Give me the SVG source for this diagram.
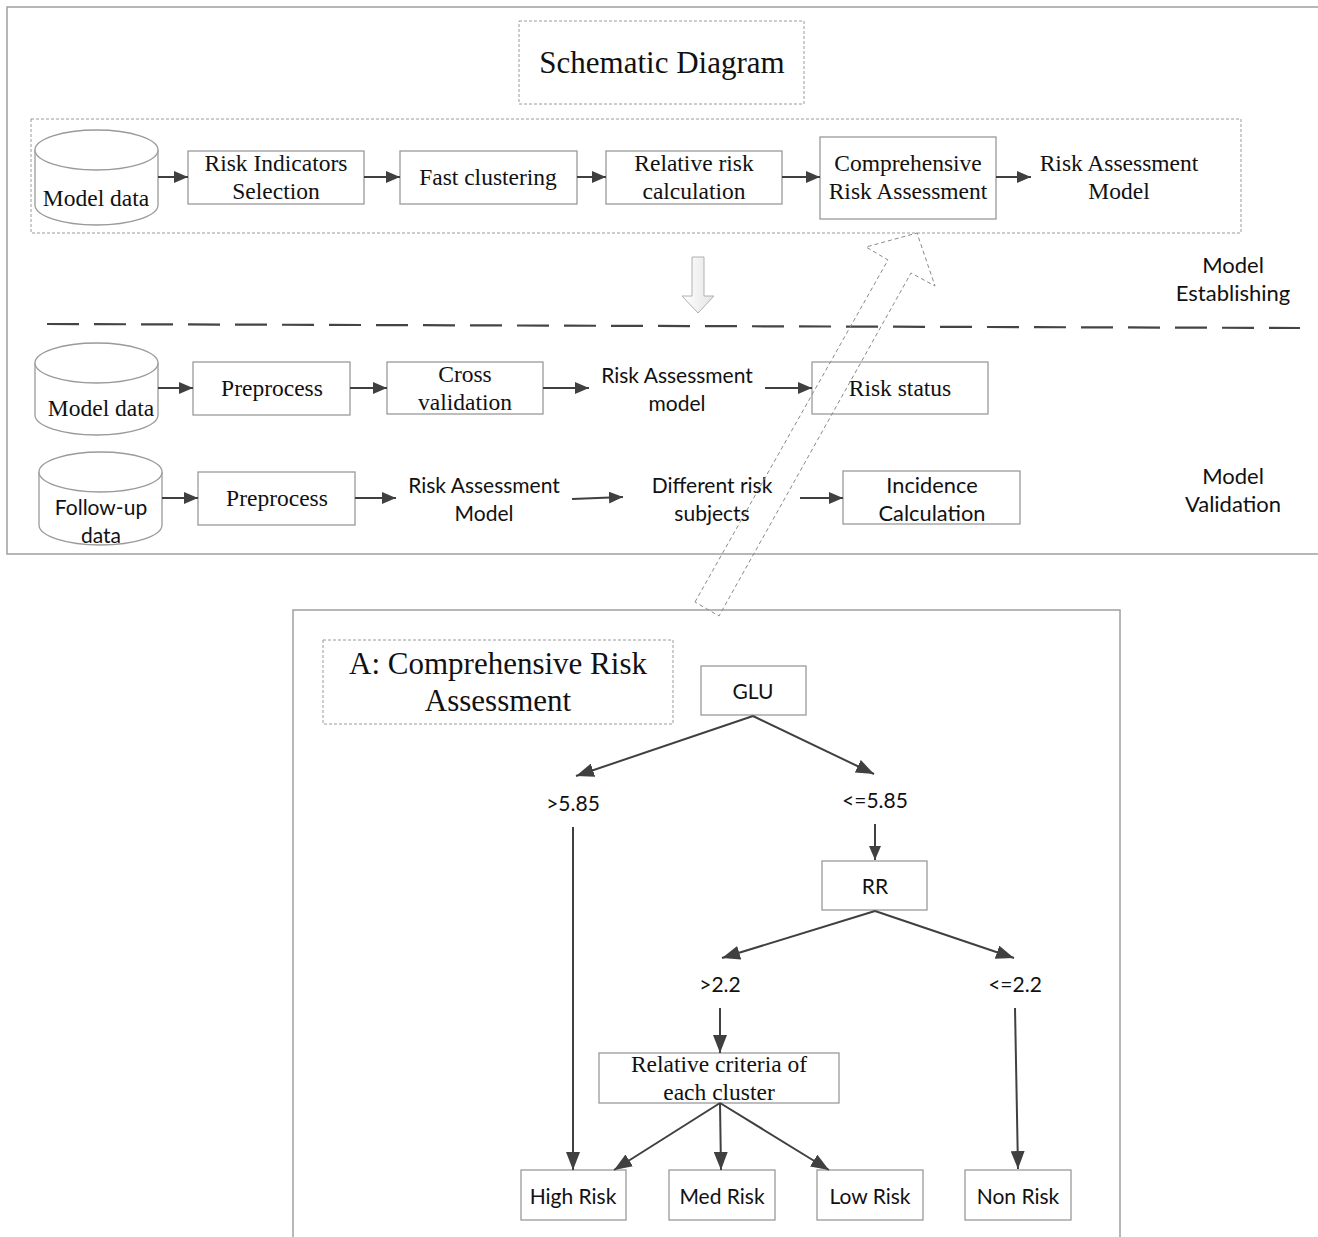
<svg xmlns="http://www.w3.org/2000/svg" width="1318" height="1237" viewBox="0 0 1318 1237">
<defs>
<marker id="ah" viewBox="0 0 14 12" refX="14" refY="6" markerWidth="14" markerHeight="12" markerUnits="userSpaceOnUse" orient="auto">
<path d="M0,0 L14,6 L0,12 z" fill="#404040"/>
</marker>
<marker id="ahb" viewBox="0 0 18 14" refX="18" refY="7" markerWidth="18" markerHeight="14" markerUnits="userSpaceOnUse" orient="auto">
<path d="M0,0 L18,7 L0,14 z" fill="#404040"/>
</marker>
<linearGradient id="gArrow" x1="0" y1="0" x2="1" y2="0">
<stop offset="0" stop-color="#ffffff"/>
<stop offset="1" stop-color="#e4e4e4"/>
</linearGradient>
</defs>
<style>
.frame{fill:none;stroke:#a0a0a0;stroke-width:1.5}
.box{fill:#ffffff;stroke:#9a9a9a;stroke-width:1.3}
.dbox{fill:none;stroke:#9a9a9a;stroke-width:1;stroke-dasharray:3,2}
.serif{font-family:"Liberation Serif","Times New Roman",serif;fill:#111;text-anchor:middle;dominant-baseline:central}
.sans{font-family:Lato,"Open Sans","Liberation Sans",sans-serif;fill:#111;text-anchor:middle;dominant-baseline:central}
.s22{font-size:23.5px}
.s21{font-size:21px}
.s31{font-size:31px}
.conn{stroke:#404040;stroke-width:2;fill:none}
.cyl{fill:#ffffff;stroke:#9a9a9a;stroke-width:1.3}
</style>
<rect width="1318" height="1237" fill="#ffffff"/>

<g id="frames">
<path class="frame" d="M1318,7 H7 V554 H1318"/>
<path class="frame" d="M293,1237 V610 H1120 V1237"/>
<rect class="dbox" x="31" y="119" width="1210" height="114"/>
<path d="M47,324 L1300,328" stroke="#444" stroke-width="2.2" stroke-dasharray="32,15" fill="none"/>
</g>

<g id="title">
<rect class="dbox" x="519" y="21" width="285" height="83"/>
<text class="serif s31" x="662" y="62">Schematic Diagram</text>
</g>

<g id="cyl1">
<path class="cyl" d="M35,150 V205 A61.5,20 0 0 0 158,205 V150"/>
<ellipse class="cyl" cx="96.5" cy="150" rx="61.5" ry="20"/>
<text class="serif s22" x="96" y="198">Model data</text>
</g>
<g id="n_risk_ind">
<rect class="box" x="188" y="151" width="176" height="53"/>
<text class="serif s22" x="276" y="163">Risk Indicators</text>
<text class="serif s22" x="276" y="191">Selection</text>
</g>
<g id="n_fast">
<rect class="box" x="400" y="151" width="177" height="53"/>
<text class="serif s22" x="488" y="177">Fast clustering</text>
</g>
<g id="n_rel">
<rect class="box" x="606" y="151" width="176" height="53"/>
<text class="serif s22" x="694" y="163">Relative risk</text>
<text class="serif s22" x="694" y="191">calculation</text>
</g>
<g id="n_comp">
<rect class="box" x="820" y="137" width="176" height="82"/>
<text class="serif s22" x="908" y="163">Comprehensive</text>
<text class="serif s22" x="908" y="191">Risk Assessment</text>
</g>
<g id="n_ram">
<text class="serif s22" x="1119" y="163">Risk Assessment</text>
<text class="serif s22" x="1119" y="191">Model</text>
</g>

<g id="downArrow">
<path d="M692,257 H704 V296 H714 L698,313 L682,296 H692 Z" fill="url(#gArrow)" stroke="#b0b0b0" stroke-width="1"/>
</g>

<g id="labels">
<text class="sans s21" x="1233" y="264" style="font-size:22px">Model</text>
<text class="sans s21" x="1233" y="292" style="font-size:22px">Establishing</text>
<text class="sans s21" x="1233" y="475" style="font-size:22px">Model</text>
<text class="sans s21" x="1233" y="503" style="font-size:22px">Validation</text>
</g>

<g id="cyl2">
<path class="cyl" d="M35,363 V415 A61.5,20 0 0 0 158,415 V363"/>
<ellipse class="cyl" cx="96.5" cy="363" rx="61.5" ry="20"/>
<text class="serif s22" x="101" y="408">Model data</text>
</g>
<g id="n_pre1">
<rect class="box" x="193" y="362" width="157" height="53"/>
<text class="serif s22" x="272" y="388">Preprocess</text>
</g>
<g id="n_cross">
<rect class="box" x="387" y="362" width="156" height="52"/>
<text class="serif s22" x="465" y="374">Cross</text>
<text class="serif s22" x="465" y="402">validation</text>
</g>
<g id="n_ram2">
<text class="sans s21" x="677" y="374">Risk Assessment</text>
<text class="sans s21" x="677" y="402">model</text>
</g>
<g id="n_status">
<rect class="box" x="812" y="362" width="176" height="52"/>
<text class="serif s22" x="900" y="388">Risk status</text>
</g>

<g id="cyl3">
<path class="cyl" d="M39,472 V525 A61.5,20 0 0 0 162,525 V472"/>
<ellipse class="cyl" cx="100.5" cy="472" rx="61.5" ry="20"/>
<text class="sans s21" x="101" y="506">Follow-up</text>
<text class="sans s21" x="101" y="534">data</text>
</g>
<g id="n_pre2">
<rect class="box" x="198" y="472" width="157" height="53"/>
<text class="serif s22" x="277" y="498">Preprocess</text>
</g>
<g id="n_ram3">
<text class="sans s21" x="484" y="484">Risk Assessment</text>
<text class="sans s21" x="484" y="512">Model</text>
</g>
<g id="n_diff">
<text class="sans s21" x="712" y="484">Different risk</text>
<text class="sans s21" x="712" y="512">subjects</text>
</g>
<g id="n_inc">
<rect class="box" x="843" y="471" width="177" height="53"/>
<text class="sans s21" x="932" y="484" style="font-size:21.8px">Incidence</text>
<text class="sans s21" x="932" y="512" style="font-size:21.8px">Calculation</text>
</g>

<g id="panelA">
<rect class="dbox" x="323" y="640" width="350" height="84"/>
<text class="serif s31" x="498" y="663">A: Comprehensive Risk</text>
<text class="serif s31" x="498" y="700">Assessment</text>
</g>
<g id="n_glu">
<rect class="box" x="701" y="666" width="105" height="49"/>
<text class="sans s21" x="753" y="690">GLU</text>
</g>
<g id="l_gt585"><text class="sans s21" x="573" y="802">&gt;5.85</text></g>
<g id="l_le585"><text class="sans s21" x="875" y="799">&lt;=5.85</text></g>
<g id="n_rr">
<rect class="box" x="822" y="861" width="105" height="49"/>
<text class="sans s21" x="875" y="885">RR</text>
</g>
<g id="l_gt22"><text class="sans s21" x="720" y="983">&gt;2.2</text></g>
<g id="l_le22"><text class="sans s21" x="1015" y="983">&lt;=2.2</text></g>
<g id="n_crit">
<rect class="box" x="599" y="1053" width="240" height="50"/>
<text class="serif s22" x="719" y="1064">Relative criteria of</text>
<text class="serif s22" x="719" y="1092">each cluster</text>
</g>
<g id="n_high">
<rect class="box" x="521" y="1170" width="105" height="50"/>
<text class="sans s21" x="573" y="1195">High Risk</text>
</g>
<g id="n_med">
<rect class="box" x="669" y="1170" width="106" height="50"/>
<text class="sans s21" x="722" y="1195">Med Risk</text>
</g>
<g id="n_low">
<rect class="box" x="817" y="1170" width="106" height="50"/>
<text class="sans s21" x="870" y="1195">Low Risk</text>
</g>
<g id="n_non">
<rect class="box" x="965" y="1170" width="106" height="50"/>
<text class="sans s21" x="1018" y="1195">Non Risk</text>
</g>

<g id="connectors">
<line class="conn" x1="158" y1="177" x2="188" y2="177" marker-end="url(#ah)"/>
<line class="conn" x1="364" y1="177" x2="400" y2="177" marker-end="url(#ah)"/>
<line class="conn" x1="577" y1="177" x2="606" y2="177" marker-end="url(#ah)"/>
<line class="conn" x1="782" y1="177" x2="820" y2="177" marker-end="url(#ah)"/>
<line class="conn" x1="996" y1="177" x2="1031" y2="177" marker-end="url(#ah)"/>

<line class="conn" x1="158" y1="388" x2="193" y2="388" marker-end="url(#ah)"/>
<line class="conn" x1="350" y1="388" x2="387" y2="388" marker-end="url(#ah)"/>
<line class="conn" x1="543" y1="388" x2="589" y2="388" marker-end="url(#ah)"/>
<line class="conn" x1="765" y1="388" x2="812" y2="388" marker-end="url(#ah)"/>

<line class="conn" x1="162" y1="498" x2="198" y2="498" marker-end="url(#ah)"/>
<line class="conn" x1="355" y1="498" x2="396" y2="498" marker-end="url(#ah)"/>
<line class="conn" x1="572" y1="499" x2="623" y2="497" marker-end="url(#ah)"/>
<line class="conn" x1="800" y1="498" x2="843" y2="498" marker-end="url(#ah)"/>

<line class="conn" x1="753" y1="716" x2="576" y2="776" marker-end="url(#ahb)"/>
<line class="conn" x1="753" y1="716" x2="874" y2="774" marker-end="url(#ahb)"/>
<line class="conn" x1="875" y1="824" x2="875" y2="860" stroke-width="1.5" marker-end="url(#ah)"/>
<line class="conn" x1="875" y1="911" x2="722" y2="958" marker-end="url(#ahb)"/>
<line class="conn" x1="875" y1="911" x2="1014" y2="958" marker-end="url(#ahb)"/>
<line class="conn" x1="720" y1="1008" x2="720" y2="1053" marker-end="url(#ahb)"/>
<line class="conn" x1="573" y1="827" x2="573" y2="1170" marker-end="url(#ahb)"/>
<line class="conn" x1="720" y1="1103" x2="614" y2="1170" marker-end="url(#ahb)"/>
<line class="conn" x1="720" y1="1103" x2="721" y2="1170" marker-end="url(#ahb)"/>
<line class="conn" x1="720" y1="1103" x2="829" y2="1170" marker-end="url(#ahb)"/>
<line class="conn" x1="1015" y1="1008" x2="1018" y2="1169" marker-end="url(#ahb)"/>

<path d="M695,602 L888,260 L866,247 L917,233 L935,286 L911,273 L719,616 Z" fill="none" stroke="#8a8a8a" stroke-width="1" stroke-dasharray="4,3"/>
</g>
</svg>
